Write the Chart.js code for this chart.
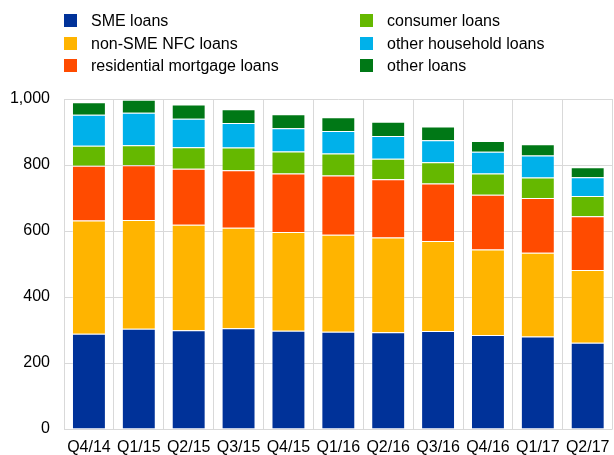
<!DOCTYPE html>
<html>
<head>
<meta charset="utf-8">
<script src="https://cdn.jsdelivr.net/npm/chart.js@4"></script>
<style>
  html, body { margin: 0; padding: 0; background: #fff; overflow: hidden; }
  #wrap { position: relative; width: 618px; height: 455px; }
  #legend { position: absolute; left: 0; top: 0; width: 614px; height: 90px;
    font-family: "Liberation Sans", Arial, sans-serif; font-size: 16px; color: #000; }
  .item { position: absolute; height: 20px; line-height: 20px; white-space: nowrap; }
  .sw { position: absolute; left: 0; top: 3px; width: 13px; height: 13px; }
  .lbl { position: absolute; left: 27px; top: 0; }
</style>
</head>
<body>
<div id="wrap">
  <canvas id="chart" width="618" height="455"></canvas>
  <div id="legend"></div>
</div>
<script>
const categories = ["Q4/14","Q1/15","Q2/15","Q3/15","Q4/15","Q1/16","Q2/16","Q3/16","Q4/16","Q1/17","Q2/17"];

const smeLoans         = [289, 304, 299, 305, 298, 295, 293, 297, 285, 280, 261];
const nonSmeNfcLoans   = [343, 329, 320, 305, 299, 294, 287, 273, 259, 254, 221];
const residentialLoans = [166, 166, 170, 174, 177, 179, 177, 174, 166, 166, 163];
const consumerLoans    = [60, 61, 65, 69, 67, 67, 62, 64, 64, 62, 61];
const otherHhLoans     = [94, 98, 86, 74, 70, 68, 69, 67, 66, 67, 57];
const otherLoans       = [38, 40, 43, 42, 43, 42, 43, 42, 33, 34, 30];

const yTicks = [0, 200, 400, 600, 800, 1000];

const series = [
  { label: "SME loans", data: smeLoans, color: "#003299" },
  { label: "non-SME NFC loans", data: nonSmeNfcLoans, color: "#ffb400" },
  { label: "residential mortgage loans", data: residentialLoans, color: "#ff4b00" },
  { label: "consumer loans", data: consumerLoans, color: "#65b800" },
  { label: "other household loans", data: otherHhLoans, color: "#00b1ea" },
  { label: "other loans", data: otherLoans, color: "#007816" }
];

const FONT = { family: "'Liberation Sans', Arial, sans-serif", size: 16 };
const GRID = "#d9d9d9";

const chart = new Chart(document.getElementById("chart"), {
  type: "bar",
  data: {
    labels: categories,
    datasets: series.map(s => ({
      label: s.label,
      data: s.data,
      backgroundColor: s.color,
      borderColor: "rgba(255,255,255,0.3)",
      borderWidth: 1,
      barPercentage: 0.68,
      categoryPercentage: 1
    }))
  },
  options: {
    responsive: false,
    animation: false,
    layout: { padding: { top: 99, right: 0, bottom: 0, left: 0 } },
    plugins: { legend: { display: false }, tooltip: { enabled: false } },
    scales: {
      x: {
        stacked: true,
        grid: { color: GRID, lineWidth: 1, drawTicks: false, offset: true },
        border: { display: false },
        ticks: { color: "#000", font: FONT, padding: 8.5, maxRotation: 0, autoSkip: false },
        afterFit: s => { s.height = 26; }
      },
      y: {
        stacked: true,
        min: 0, max: 1000,
        afterBuildTicks: s => { s.ticks = yTicks.map(v => ({ value: v })); },
        grid: { color: GRID, lineWidth: 1, drawTicks: false },
        border: { display: false },
        ticks: {
          color: "#000", font: FONT, padding: 14,
          callback: v => v.toLocaleString("en-US")
        },
        afterFit: s => { s.width = 64; }
      }
    }
  }
});

// two-column legend, filled down each column
const legend = document.getElementById("legend");
const colX = [64, 360];
const rowY = [11, 33.5, 56];
chart.data.datasets.forEach((ds, i) => {
  const col = Math.floor(i / 3), row = i % 3;
  const div = document.createElement("div");
  div.className = "item";
  div.style.left = colX[col] + "px";
  div.style.top = rowY[row] + "px";
  div.innerHTML = `<span class="sw" style="background:${ds.backgroundColor}"></span><span class="lbl">${ds.label}</span>`;
  legend.appendChild(div);
});
</script>
</body>
</html>
